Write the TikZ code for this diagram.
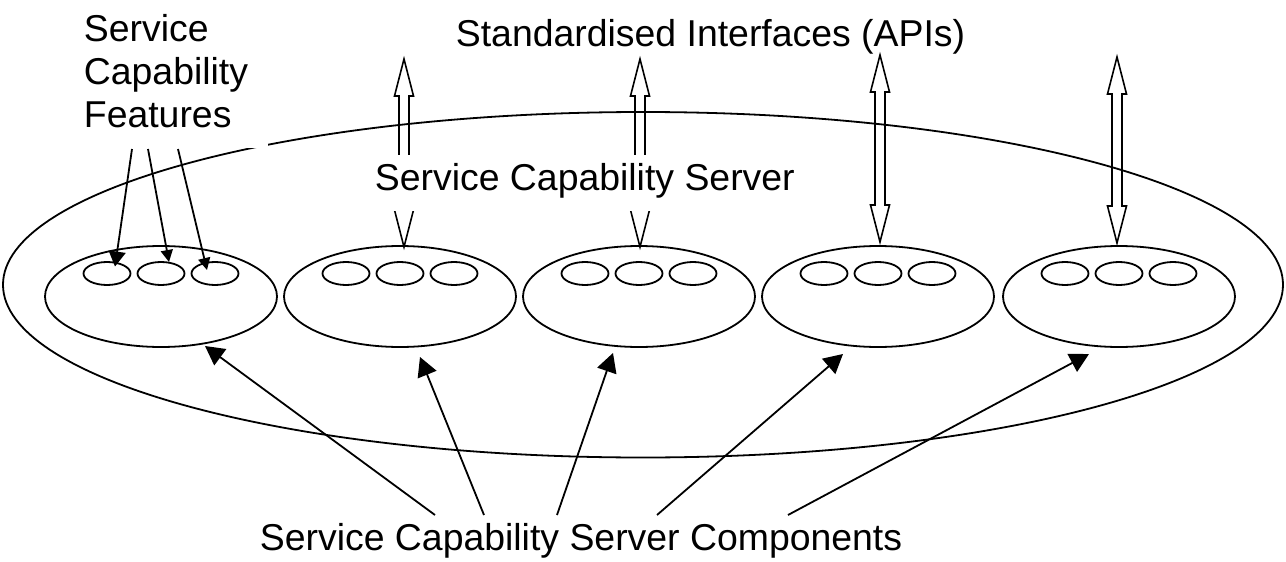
\documentclass[tikz,border=0pt]{standalone}
\usepackage{fontspec}
\setmainfont{Liberation Sans}
\usetikzlibrary{arrows.meta,shapes.geometric}
\begin{document}
\begin{tikzpicture}[x=1pt,y=-1pt,line width=1.8pt,
  lbl/.style={font=\fontsize{37.4}{42.8}\selectfont, inner sep=0pt},
  comp/.style={draw, ellipse, minimum width=232pt, minimum height=101pt, inner sep=0pt},
  feat/.style={draw, ellipse, minimum width=47pt, minimum height=23pt, inner sep=0pt},
  bigtip/.style={-{Triangle[length=19pt,width=20pt]}},
  wtip/.style={-{Triangle[length=15pt,width=17pt]}},
  smtip/.style={-{Triangle[length=12pt,width=12pt]}}]
\useasboundingbox (0,0) rectangle (1286,562);
% outer server ellipse
\node[draw, ellipse, minimum width=1280pt, minimum height=345.5pt, inner sep=0pt] (server) at (643,284.75) {};
% components with features
\foreach \cx [count=\i] in {161,400,639,878,1119} {
  \node[comp] (c\i) at (\cx,296.5) {};
  \node[feat] (f\i-a) at (\cx-54,273.5) {};
  \node[feat] (f\i-b) at (\cx,273.5) {};
  \node[feat] (f\i-c) at (\cx+54,273.5) {};
}
% double (hollow) arrows
\foreach \c/\t/\b in {404/59/247, 640/59/247, 880/55/242, 1117/57/243} {
  \draw[line width=1.6pt] (\c,\t) -- ++(9.5,37) -- ++(-4.5,0) -- (\c+5,\b-37) -- ++(4.5,0) -- (\c,\b)
     -- ++(-9.5,-37) -- ++(4.5,0) -- (\c-5,\t+37) -- ++(-4.5,0) -- cycle;
}
% labels
\node[lbl, anchor=base west, fill=white, text height=35pt, text depth=21pt] (scslabel) at (374,190) {Service Capability Server};
\node[lbl, anchor=south west, fill=white, align=left, text width=184pt, inner ysep=20.4pt] (featlabel) at (83,149) {Service\\Capability\\Features};
\node[lbl, anchor=base west] (api) at (455,46) {Standardised Interfaces (APIs)};
\node[lbl, anchor=base west, fill=white, text height=35pt] (complabel) at (259,550) {Service Capability Server Components};
% feature arrows
\coordinate (fs1) at (132,149); \coordinate (ft1) at (115,266.5);
\coordinate (fs2) at (148,149); \coordinate (ft2) at (169,262);
\coordinate (fs3) at (178,149); \coordinate (ft3) at (207,270);
\draw[wtip] (fs1) -- (ft1);
\draw[smtip] (fs2) -- (ft2);
\draw[smtip] (fs3) -- (ft3);
% component arrows
\coordinate (bs1) at (435,515); \coordinate (bt1) at (205,346);
\coordinate (bs2) at (484,515); \coordinate (bt2) at (420,357);
\coordinate (bs3) at (557,515); \coordinate (bt3) at (613,353);
\coordinate (bs4) at (657,515); \coordinate (bt4) at (843,354);
\coordinate (bs5) at (788,515); \coordinate (bt5) at (1089,354);
\foreach \i in {1,...,5} { \draw[bigtip] (bs\i) -- (bt\i); }
\end{tikzpicture}
\end{document}
